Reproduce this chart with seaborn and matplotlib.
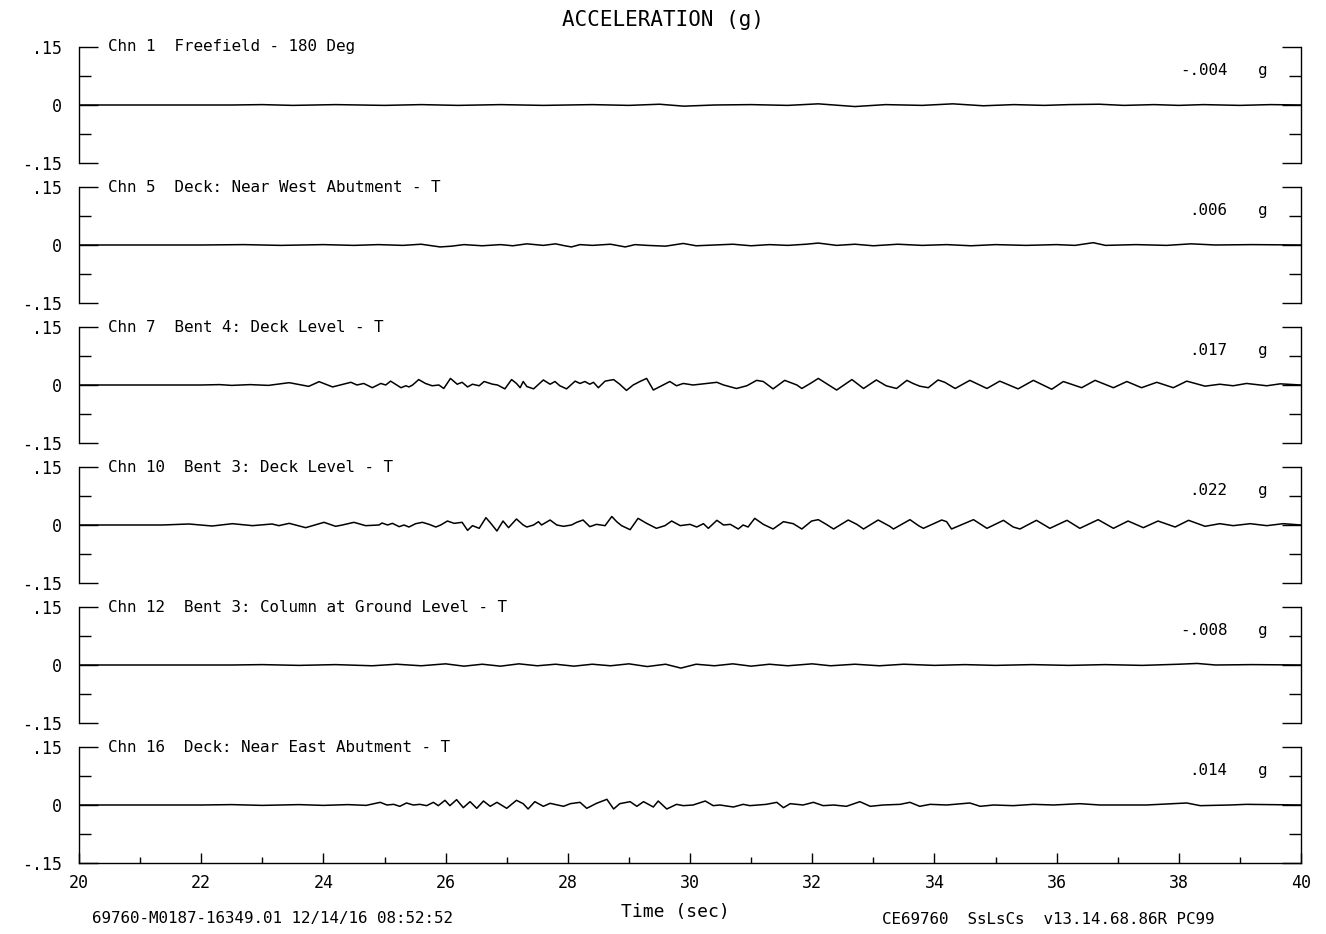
import numpy as np
import pandas as pd
import seaborn as sns
import matplotlib.pyplot as plt
from matplotlib.ticker import FixedLocator, MultipleLocator

sns.set_style("white")
plt.rcParams['font.family'] = ['DejaVu Sans Mono', 'DejaVu Sans']
plt.rcParams['text.color'] = 'black'
plt.rcParams['xtick.color'] = 'black'
plt.rcParams['ytick.color'] = 'black'

# channel names and peak values as printed on the record
labels = ["Chn 1  Freefield - 180 Deg",
          "Chn 5  Deck: Near West Abutment - T",
          "Chn 7  Bent 4: Deck Level - T",
          "Chn 10  Bent 3: Deck Level - T",
          "Chn 12  Bent 3: Column at Ground Level - T",
          "Chn 16  Deck: Near East Abutment - T"]
peaks = ["-.004", ".006", ".017", ".022", "-.008", ".014"]

# traces (time in sec, acceleration in g), extrema only
t_chn1 = [20, 22.5, 23.0, 23.5, 24.2, 25.0, 25.6, 26.2, 26.9, 27.6, 28.4, 29.0, 29.5, 29.9,
          30.4, 31.0, 31.6, 32.1, 32.7, 33.2, 33.8, 34.3, 34.8, 35.3, 35.8, 36.2, 36.7, 37.1,
          37.6, 38.0, 38.4, 39.0, 39.5, 40]
a_chn1 = [0, 0, 0.001, -0.001, 0.001, -0.001, 0.001, -0.001, 0.001, -0.001, 0.001, -0.001, 0.002, -0.003,
          0.0, 0.001, -0.001, 0.003, -0.004, 0.001, -0.001, 0.003, -0.002, 0.001, -0.001, 0.001, 0.002, -0.001,
          0.001, -0.001, 0.001, -0.001, 0.001, 0]

t_chn5 = [20, 22.0, 22.7, 23.3, 24.0, 24.5, 24.9, 25.3, 25.6, 25.91, 26.1, 26.3, 26.6, 26.9,
          27.1, 27.33, 27.6, 27.8, 27.95, 28.06, 28.2, 28.4, 28.7, 28.94, 29.1, 29.3, 29.6, 29.89,
          30.1, 30.4, 30.7, 31.0, 31.3, 31.6, 31.9, 32.1, 32.4, 32.7, 33.0, 33.4, 33.8, 34.2,
          34.6, 35.0, 35.5, 36.0, 36.3, 36.6, 36.8, 37.3, 37.8, 38.2, 38.6, 39.2, 40]
a_chn5 = [0, 0, 0.001, -0.001, 0.001, -0.001, 0.001, -0.001, 0.002, -0.005, -0.003, 0.001, -0.002, 0.001,
          -0.002, 0.003, -0.001, 0.003, -0.002, -0.005, 0.001, -0.001, 0.002, -0.005, 0.001, -0.001, -0.003, 0.004,
          -0.002, 0.0, 0.002, -0.002, 0.001, -0.001, 0.002, 0.005, -0.001, 0.002, -0.002, 0.002, -0.001, 0.001,
          -0.002, 0.001, -0.001, 0.001, -0.001, 0.006, -0.001, 0.001, -0.001, 0.003, 0.0, 0.001, 0]

t_chn7 = [20, 22.0, 22.3, 22.5, 22.8, 23.1, 23.44, 23.76, 23.93, 24.15, 24.45, 24.55, 24.66, 24.80,
          24.94, 25.02, 25.10, 25.27, 25.35, 25.40, 25.46, 25.56, 25.67, 25.78, 25.89, 25.97, 26.08, 26.19,
          26.27, 26.36, 26.44, 26.55, 26.63, 26.77, 26.85, 26.97, 27.08, 27.16, 27.22, 27.27, 27.33, 27.44,
          27.60, 27.71, 27.79, 27.87, 27.98, 28.12, 28.20, 28.28, 28.36, 28.42, 28.50, 28.61, 28.75, 28.85,
          28.96, 29.07, 29.18, 29.29, 29.40, 29.51, 29.67, 29.78, 29.89, 30.05, 30.22, 30.44, 30.55, 30.76,
          30.93, 31.09, 31.20, 31.36, 31.55, 31.75, 31.83, 31.97, 32.10, 32.24, 32.40, 32.65, 32.84, 33.05,
          33.21, 33.38, 33.55, 33.65, 33.76, 33.90, 34.06, 34.17, 34.34, 34.58, 34.86, 35.07, 35.37, 35.62,
          35.92, 36.11, 36.41, 36.63, 36.93, 37.15, 37.39, 37.64, 37.91, 38.13, 38.43, 38.67, 38.89, 39.11,
          39.44, 39.66, 40]
a_chn7 = [0, 0, 0.001, -0.001, 0.001, -0.001, 0.006, -0.0035, 0.0086, -0.005, 0.007, 0.0, 0.004, -0.007,
          0.004, 0.0, 0.010, -0.007, -0.002, -0.005, 0.0, 0.014, 0.004, -0.002, 0.0, -0.009, 0.017, 0.002,
          0.007, -0.005, 0.002, -0.002, 0.009, 0.002, 0.0, -0.010, 0.014, 0.004, -0.007, 0.009, -0.004, -0.010,
          0.013, 0.002, 0.009, -0.002, -0.010, 0.010, 0.004, 0.009, 0.002, 0.007, -0.007, 0.010, 0.014, 0.002,
          -0.014, 0.0, 0.009, 0.017, -0.013, -0.004, 0.009, -0.002, 0.004, 0.0, 0.003, 0.007, 0.0, -0.009,
          -0.002, 0.012, 0.009, -0.010, 0.012, 0.0, -0.009, 0.004, 0.017, 0.003, -0.013, 0.014, -0.009, 0.013,
          -0.002, -0.009, 0.012, 0.004, -0.003, -0.007, 0.013, 0.007, -0.009, 0.012, -0.009, 0.010, -0.010, 0.012,
          -0.011, 0.009, -0.007, 0.012, -0.007, 0.009, -0.007, 0.007, -0.007, 0.010, -0.003, 0.002, -0.002, 0.004,
          -0.002, 0.003, 0]

t_chn10 = [20, 21.36, 21.80, 22.18, 22.51, 22.84, 23.16, 23.27, 23.44, 23.71, 24.01, 24.20, 24.31, 24.50,
           24.69, 24.91, 24.96, 25.05, 25.13, 25.24, 25.32, 25.40, 25.51, 25.62, 25.73, 25.84, 25.92, 26.03,
           26.14, 26.27, 26.36, 26.44, 26.55, 26.66, 26.74, 26.84, 26.94, 27.03, 27.16, 27.27, 27.33, 27.44,
           27.52, 27.57, 27.71, 27.82, 27.93, 28.06, 28.145, 28.25, 28.36, 28.47, 28.61, 28.72, 28.80, 28.88,
           29.02, 29.15, 29.29, 29.45, 29.59, 29.70, 29.84, 30.00, 30.11, 30.22, 30.30, 30.44, 30.55, 30.66,
           30.79, 30.87, 30.95, 31.06, 31.20, 31.36, 31.53, 31.69, 31.83, 31.99, 32.10, 32.23, 32.35, 32.59,
           32.73, 32.84, 33.08, 33.27, 33.33, 33.60, 33.74, 33.82, 34.12, 34.20, 34.28, 34.64, 34.86, 35.13,
           35.29, 35.40, 35.67, 35.89, 36.17, 36.38, 36.68, 36.93, 37.17, 37.42, 37.66, 37.94, 38.16, 38.43,
           38.67, 38.89, 39.17, 39.44, 39.71, 40]
a_chn10 = [0, 0, 0.0026, -0.0026, 0.0034, -0.0017, 0.0026, -0.0017, 0.0043, -0.0069, 0.0069, -0.0034, 0.0, 0.0069,
           -0.0017, 0.0, 0.0052, 0.0, 0.0043, -0.0043, 0.0, -0.0052, 0.0034, 0.0069, 0.0017, -0.0052, 0.0, 0.0103,
           0.0043, 0.0069, -0.0138, -0.0017, -0.0086, 0.019, 0.0043, -0.0155, 0.0103, -0.0069, 0.0155, 0.0, -0.0052, 0.0,
           0.0086, 0.0, 0.0129, 0.0, -0.0034, 0.0, 0.0069, 0.0129, -0.0043, 0.0017, -0.0017, 0.022, 0.0086, -0.0017,
           -0.0121, 0.0172, 0.0043, -0.0086, -0.0017, 0.0103, -0.0017, 0.0017, -0.0052, 0.0034, -0.0086, 0.0121, 0.0, 0.0017,
           -0.0103, 0.0, -0.0052, 0.0172, 0.0017, -0.0103, 0.0086, 0.0034, -0.0103, 0.0103, 0.0138, 0.0017, -0.0103, 0.0129,
           0.0017, -0.0103, 0.0129, -0.0034, -0.0103, 0.0138, -0.0017, -0.0086, 0.0129, 0.0086, -0.0103, 0.0138, -0.0086, 0.0121,
           -0.0052, -0.0103, 0.0121, -0.0086, 0.0121, -0.0086, 0.0138, -0.0086, 0.0103, -0.0069, 0.0103, -0.0052, 0.0121, -0.0034,
           0.0034, -0.0017, 0.0034, -0.0017, 0.0034, 0]

t_chn12 = [20, 22.5, 23.0, 23.6, 24.2, 24.8, 25.2, 25.6, 26.0, 26.3, 26.6, 26.9, 27.2, 27.5,
           27.8, 28.1, 28.4, 28.7, 29.0, 29.3, 29.6, 29.85, 30.1, 30.4, 30.7, 31.0, 31.3, 31.6,
           32.0, 32.3, 32.7, 33.1, 33.5, 34.0, 34.5, 35.0, 35.6, 36.2, 36.8, 37.4, 38.0, 38.3,
           38.6, 39.2, 40]
a_chn12 = [0, 0, 0.001, -0.001, 0.001, -0.002, 0.002, -0.002, 0.003, -0.003, 0.002, -0.003, 0.003, -0.002,
           0.002, -0.003, 0.002, -0.002, 0.003, -0.004, 0.002, -0.008, 0.002, -0.002, 0.003, -0.003, 0.002, -0.002,
           0.003, -0.002, 0.002, -0.002, 0.002, -0.001, 0.001, -0.001, 0.001, -0.001, 0.001, -0.001, 0.002, 0.004,
           0.0, 0.001, 0]

t_chn16 = [20, 22.0, 22.5, 23.0, 23.6, 24.0, 24.4, 24.7, 24.93, 25.04, 25.15, 25.25, 25.36, 25.47,
           25.58, 25.69, 25.80, 25.88, 25.99, 26.07, 26.18, 26.29, 26.40, 26.51, 26.62, 26.73, 26.84, 27.00,
           27.16, 27.27, 27.35, 27.46, 27.60, 27.71, 27.93, 28.04, 28.20, 28.31, 28.47, 28.64, 28.75, 28.85,
           29.02, 29.13, 29.24, 29.40, 29.48, 29.62, 29.78, 29.89, 30.05, 30.25, 30.38, 30.49, 30.71, 30.87,
           30.98, 31.25, 31.42, 31.53, 31.64, 31.85, 32.02, 32.18, 32.35, 32.56, 32.78, 32.95, 33.16, 33.44,
           33.60, 33.76, 33.93, 34.20, 34.58, 34.75, 34.97, 35.29, 35.62, 35.95, 36.38, 36.71, 37.47, 38.13,
           38.35, 38.84, 39.11, 40]
a_chn16 = [0, 0, 0.001, -0.001, 0.001, -0.001, 0.001, -0.001, 0.0069, 0.0, 0.0017, -0.0034, 0.0052, 0.0,
           0.0017, -0.0017, 0.0069, -0.0017, 0.0121, -0.0017, 0.0138, -0.0069, 0.0086, -0.0086, 0.0103, -0.0034, 0.0069, -0.0086,
           0.0121, 0.0034, -0.0103, 0.0086, -0.0034, 0.0043, -0.0034, 0.0034, 0.0069, -0.0086, 0.0043, 0.0147, -0.0103, 0.0034,
           0.0086, -0.0034, 0.0086, -0.0052, 0.0103, -0.0103, 0.0017, -0.0017, 0.0, 0.0103, -0.0017, 0.0, -0.0052, 0.0017,
           -0.0017, 0.0017, 0.0069, -0.0069, 0.0034, 0.0, 0.0069, -0.0017, 0.0, -0.0034, 0.0086, -0.0034, 0.0, 0.0017,
           0.0069, -0.0034, 0.0017, 0.0, 0.0052, -0.0034, 0.0, -0.0017, 0.0017, 0.0, 0.0034, 0.0, 0.0, 0.0052,
           -0.0017, 0.0, 0.0017, 0]

times = [t_chn1, t_chn5, t_chn7, t_chn10, t_chn12, t_chn16]
accels = [a_chn1, a_chn5, a_chn7, a_chn10, a_chn12, a_chn16]

W, H = 1326, 934
fig = plt.figure(figsize=(13.26, 9.34), dpi=100)

for i in range(6):
    top_px = 47 + 140 * i
    ax = fig.add_axes([79 / W, 1 - (top_px + 116) / H, 1222 / W, 116 / H])
    df = pd.DataFrame({'t': times[i], 'a': accels[i]})
    sns.lineplot(data=df, x='t', y='a', ax=ax, color='black', linewidth=1.1, estimator=None, sort=False)
    ax.set_xlim(20, 40)
    ax.set_ylim(-0.15, 0.15)
    ax.set_xlabel('')
    ax.set_ylabel('')
    for s in ['left', 'right']:
        ax.spines[s].set_linewidth(1.0)
        ax.spines[s].set_color('black')
    ax.spines['top'].set_visible(False)
    ax.spines['bottom'].set_visible(i == 5)
    ax.spines['bottom'].set_linewidth(1.0)
    ax.spines['bottom'].set_color('black')

    ax.yaxis.set_major_locator(FixedLocator([-0.15, 0, 0.15]))
    ax.set_yticklabels(['-.15', '0', '.15'])
    ax.yaxis.set_minor_locator(FixedLocator([-0.075, 0.075]))
    ax.tick_params(axis='y', which='major', direction='in', length=13.5, width=1.0,
                   left=True, right=True, labelsize=12, pad=12, colors='black')
    ax.tick_params(axis='y', which='minor', direction='in', length=8.5, width=1.0,
                   left=True, right=True)

    if i == 5:
        ax.xaxis.set_major_locator(MultipleLocator(2))
        ax.xaxis.set_minor_locator(MultipleLocator(1))
        ax.tick_params(axis='x', which='major', direction='in', length=7, width=1.0,
                       bottom=True, labelsize=12, pad=8)
        ax.tick_params(axis='x', which='minor', direction='in', length=4.5, width=1.0, bottom=True)
    else:
        ax.tick_params(axis='x', which='both', bottom=False, labelbottom=False)

    ax.text(0.0237, 1.0, labels[i], transform=ax.transAxes, ha='left', va='center', fontsize=11.4)
    ax.text(0.940, 0.80, peaks[i], transform=ax.transAxes, ha='right', va='center', fontsize=11.4)
    ax.text(0.969, 0.80, 'g', transform=ax.transAxes, ha='center', va='center', fontsize=11.4)

fig.text(0.5, 1 - 20 / H, 'ACCELERATION (g)', ha='center', va='center', fontsize=15)
fig.text(675 / W, 1 - 912 / H, 'Time (sec)', ha='center', va='center', fontsize=13)
fig.text(92 / W, 1 - 919 / H, '69760-M0187-16349.01 12/14/16 08:52:52', ha='left', va='center', fontsize=11.4)
fig.text(882 / W, 1 - 919 / H, 'CE69760  SsLsCs  v13.14.68.86R PC99', ha='left', va='center', fontsize=11.4)

fig.savefig('out.png', dpi=100)
